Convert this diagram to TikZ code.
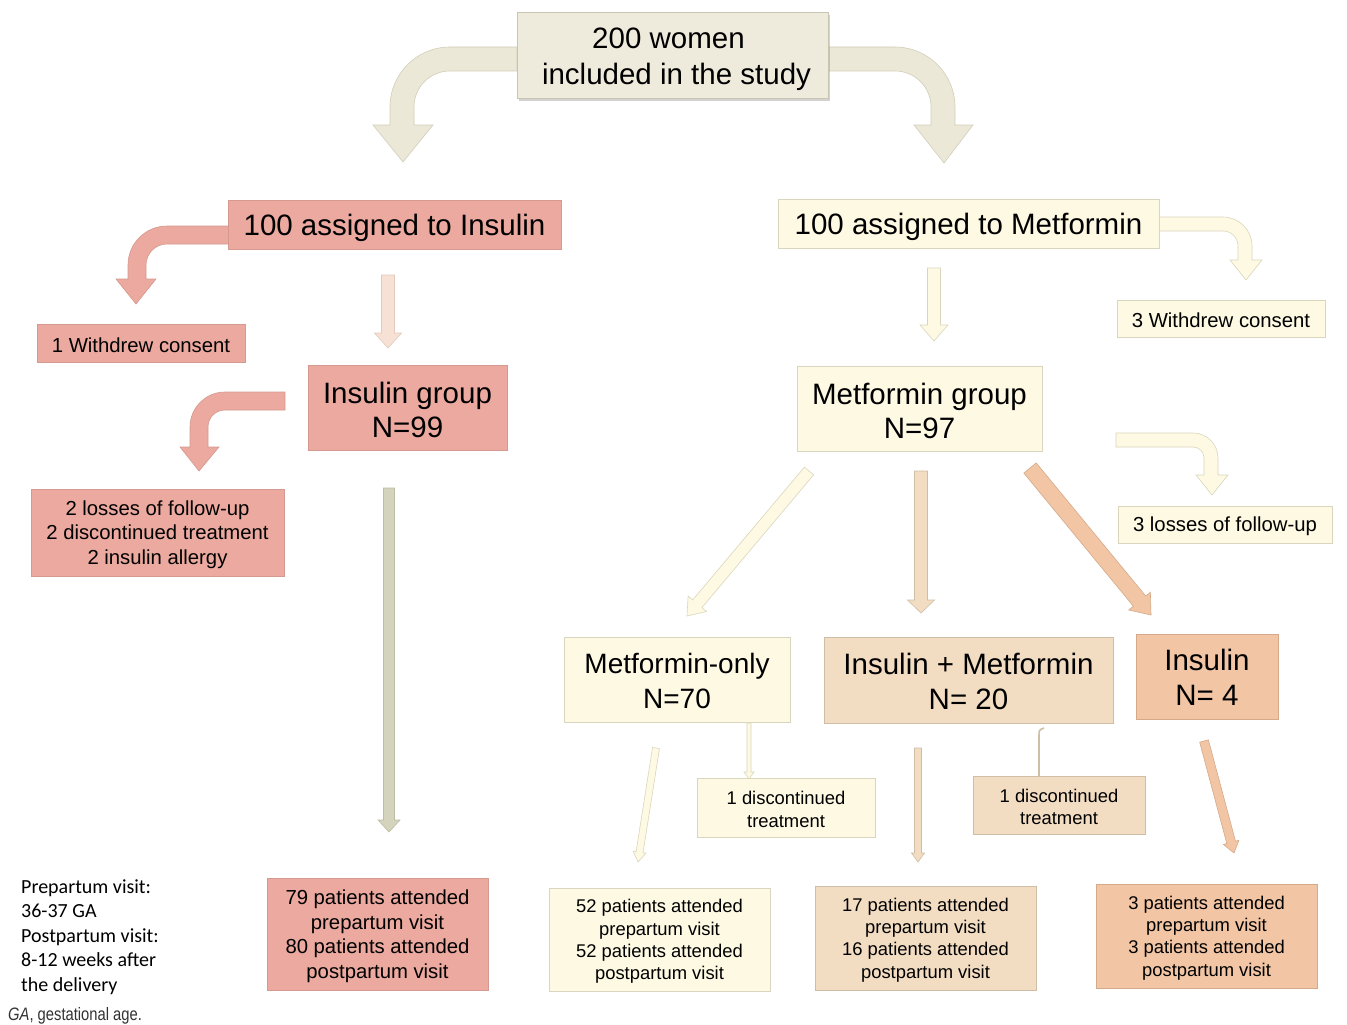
\documentclass[tikz,border=0pt]{standalone}
\usepackage{fontspec}
\setmainfont{Liberation Sans}
\newfontfamily\carl{Carlito}
\usetikzlibrary{calc,shadows,backgrounds}

\definecolor{pinkF}{HTML}{EBA99F}
\definecolor{pinkD}{HTML}{D49A90}
\definecolor{yelF}{HTML}{FDF9E3}
\definecolor{yelD}{HTML}{DAD6BD}
\definecolor{tanF}{HTML}{F2DDC3}
\definecolor{tanD}{HTML}{CFBDA5}
\definecolor{orF}{HTML}{F2C5A4}
\definecolor{orD}{HTML}{D4AA8A}
\definecolor{begF}{HTML}{EFEBDC}
\definecolor{begD}{HTML}{C9C5B2}
\definecolor{begA}{HTML}{EBE8D7}
\definecolor{begAD}{HTML}{D2CEBA}
\definecolor{lpinkF}{HTML}{F7E0D4}
\definecolor{lpinkD}{HTML}{E2CABD}
\definecolor{oliveF}{HTML}{D4D4BC}
\definecolor{oliveD}{HTML}{BDBDA5}
\definecolor{noteC}{HTML}{333333}

% straight block arrow: style, from, to, shaft width, head width, head length
\newcommand\blk[6]{%
  \filldraw[#1] let \p1=(#2), \p2=(#3), \n1={atan2(\y2-\y1,\x2-\x1)} in
   ($(\p1)+({\n1+90}:{#4/2*1pt})$) --
   ($(\p2)+({\n1+180}:{#6*1pt})+({\n1+90}:{#4/2*1pt})$) --
   ($(\p2)+({\n1+180}:{#6*1pt})+({\n1+90}:{#5/2*1pt})$) --
   (\p2) --
   ($(\p2)+({\n1+180}:{#6*1pt})+({\n1-90}:{#5/2*1pt})$) --
   ($(\p2)+({\n1+180}:{#6*1pt})+({\n1-90}:{#4/2*1pt})$) --
   ($(\p1)+({\n1-90}:{#4/2*1pt})$) -- cycle;}

% box with its text: box style, text style, name, centre, width, height, text
\newcommand\bx[7]{%
  \node[#1, minimum width=#5pt, minimum height=#6pt] (#3) at (#4) {};
  \node[#2, align=center, inner sep=0pt, text=black] (#3-t) at (#3.center) {#7};}

\tikzset{
  box/.style={draw, line width=0.8pt, inner sep=0pt},
  big/.style={font=\fontsize{29.5}{34}\selectfont, yshift=-3pt},
  mid/.style={font=\fontsize{20.3}{24.5}\selectfont, yshift=-2pt},
  sml/.style={font=\fontsize{18.4}{22.4}\selectfont, yshift=-2pt},
  pinkbox/.style={box, fill=pinkF, draw=pinkD},
  yelbox/.style={box, fill=yelF, draw=yelD},
  tanbox/.style={box, fill=tanF, draw=tanD},
  orbox/.style={box, fill=orF, draw=orD},
  topbox/.style={box, fill=begF, draw=begD,
      drop shadow={shadow xshift=2pt, shadow yshift=-3pt, opacity=0.35}},
  arr/.style={line width=0.6pt},
  pinkarr/.style={arr, fill=pinkF, draw=pinkD},
  yelarr/.style={arr, fill=yelF, draw=yelD},
  tanarr/.style={arr, fill=tanF, draw=tanD},
  orarr/.style={arr, fill=orF, draw=orD},
  begarr/.style={arr, fill=begA, draw=begAD},
  lpinkarr/.style={arr, fill=lpinkF, draw=lpinkD},
  olivearr/.style={arr, fill=oliveF, draw=oliveD},
}

\begin{document}
\begin{tikzpicture}[x=1pt,y=-1pt]
\useasboundingbox (0,0) rectangle (1347,1025);

% ---- nodes ----
\bx{topbox}{big, font=\fontsize{29.5}{36}\selectfont, yshift=-1pt}{top}{672.5,55}{311}{86}
   {\hspace*{-8pt}200 women\\\hspace*{8pt}included in the study}
\bx{pinkbox}{big}{ins100}{394.5,224.5}{333}{49}{100 assigned to Insulin}
\bx{yelbox}{big}{met100}{968.5,223.5}{381}{49}{100 assigned to Metformin}
\bx{pinkbox}{mid}{w1}{141,343}{208}{38}{1 Withdrew consent}
\bx{yelbox}{mid}{w3}{1221,318.5}{208}{37}{3 Withdrew consent}
\bx{pinkbox}{big, yshift=1pt}{insgrp}{407.5,407.5}{199}{85}{Insulin group\\N=99}
\bx{yelbox}{big, yshift=1pt}{metgrp}{919.5,408.5}{245}{85}{Metformin group\\N=97}
\bx{pinkbox}{mid}{lossL}{157.5,532.5}{253}{87}{2 losses of follow-up\\2 discontinued treatment\\2 insulin allergy}
\bx{yelbox}{mid}{loss3}{1225,524.5}{214}{37}{3 losses of follow-up}
\bx{yelbox}{big, font=\fontsize{28}{35}\selectfont, yshift=2pt}{metonly}{677,679.5}{226}{85}{Metformin-only\\N=70}
\bx{tanbox}{big, font=\fontsize{29.5}{35}\selectfont, yshift=2pt}{insmet}{968.5,680}{289}{86}{Insulin + Metformin\\N= 20}
\bx{orbox}{big, font=\fontsize{29.5}{35}\selectfont, yshift=2pt}{ins4}{1207,676.5}{142}{85}{Insulin\\N= 4}
\bx{yelbox}{sml}{disc1}{786,807.5}{178}{59}{1 discontinued\\treatment}
\bx{tanbox}{sml}{disc2}{1059,805}{172}{58}{1 discontinued\\treatment}
\bx{pinkbox}{mid}{b1}{377.5,934}{221}{112}{79 patients attended\\prepartum visit\\80 patients attended\\postpartum visit}
\bx{yelbox}{sml}{b2}{659.5,939.5}{221}{103}{52 patients attended\\prepartum visit\\52 patients attended\\postpartum visit}
\bx{tanbox}{sml}{b3}{925.5,938}{221}{104}{17 patients attended\\prepartum visit\\16 patients attended\\postpartum visit}
\bx{orbox}{sml}{b4}{1206.5,936}{221}{104}{3 patients attended\\prepartum visit\\3 patients attended\\postpartum visit}

\node[anchor=west, align=left, inner sep=0pt, font=\carl\fontsize{20}{24.5}\selectfont] (notes) at (21,937)
  {Prepartum visit:\\36-37 GA\\Postpartum visit:\\8-12 weeks after\\the delivery};
\node[anchor=west, inner sep=0pt, text=noteC, font=\fontsize{18}{20}\selectfont] (ganote) at (8,1016)
  {\scalebox{0.82}[1]{\textit{GA}, gestational age.}};

% ---- connector end points ----
\coordinate (a1s) at (388,275);  \coordinate (a1e) at (388,348);
\coordinate (a2s) at (934,268);  \coordinate (a2e) at (934,341);
\coordinate (a3s) at (389,488);  \coordinate (a3e) at (389,832);
\coordinate (a4s) at (809,471);  \coordinate (a4e) at (687,616);
\coordinate (a5s) at (921,471);  \coordinate (a5e) at (921,613);
\coordinate (a6s) at (1030,468); \coordinate (a6e) at (1151,615);
\coordinate (a7s) at (656,748);  \coordinate (a7e) at (638,862);
\coordinate (a8s) at (918,748);  \coordinate (a8e) at (918,862);
\coordinate (a9s) at (1204,741); \coordinate (a9e) at (1234,853);
\coordinate (a10s) at (749,723); \coordinate (a10e) at (749,779);
\coordinate (h1) at (1039,776);

\begin{scope}[on background layer]
\fill[white] (0,0) rectangle (1347,1025);
% curved arrows from the top box
\filldraw[begarr] (517,47) -- (450,47) .. controls (416.9,47) and (390,73.9) .. (390,107)
  -- (390,125) -- (373,125) -- (403,162) -- (433,125) -- (414,125) -- (414,107)
  .. controls (414,87.1) and (430.1,71) .. (450,71) -- (517,71) -- cycle;
\filldraw[begarr] (828,47) -- (895,47) .. controls (928.1,47) and (955,73.9) .. (955,107)
  -- (955,125) -- (973,125) -- (944,163) -- (914,125) -- (931,125) -- (931,107)
  .. controls (931,87.1) and (914.9,71) .. (895,71) -- (828,71) -- cycle;
% ins100 -> w1
\filldraw[pinkarr] (229,226) -- (167,226) .. controls (145.5,226) and (128,243.5) .. (128,265)
  -- (128,279) -- (116,279) -- (136,304) -- (156,279) -- (146,279) -- (146,265)
  .. controls (146,253.4) and (155.4,244) .. (167,244) -- (229,244) -- cycle;
% insgrp -> lossL
\filldraw[pinkarr] (285,392) -- (225,392) .. controls (205.7,392) and (190,407.7) .. (190,427)
  -- (190,447) -- (180,447) -- (199,471) -- (219,447) -- (208,447) -- (208,427)
  .. controls (208,417.6) and (215.6,410) .. (225,410) -- (285,410) -- cycle;
% met100 -> w3
\filldraw[yelarr] (1159,217) -- (1223,217) .. controls (1239,217) and (1252,230) .. (1252,246)
  -- (1252,260) -- (1262,260) -- (1246,280) -- (1230,260) -- (1238,260) -- (1238,246)
  .. controls (1238,237.7) and (1231.3,231) .. (1223,231) -- (1159,231) -- cycle;
% metgrp -> loss3
\filldraw[yelarr] (1116,433) -- (1193,433) .. controls (1206.8,433) and (1218,444.2) .. (1218,458)
  -- (1218,475) -- (1228,475) -- (1212,495) -- (1196,475) -- (1204,475) -- (1204,458)
  .. controls (1204,451.9) and (1199.1,447) .. (1193,447) -- (1116,447) -- cycle;
% straight arrows
\blk{lpinkarr}{a1s}{a1e}{13}{27}{15}
\blk{yelarr}{a2s}{a2e}{13}{28}{16}
\blk{olivearr}{a3s}{a3e}{11}{22}{12}
\blk{yelarr}{a4s}{a4e}{12}{24}{16}
\blk{tanarr}{a5s}{a5e}{13}{27}{13}
\blk{orarr}{a6s}{a6e}{16}{28}{18}
\blk{yelarr}{a7s}{a7e}{7}{13}{10}
\blk{tanarr}{a8s}{a8e}{7}{13}{9}
\blk{orarr}{a9s}{a9e}{9}{16}{11}
\blk{yelarr}{a10s}{a10e}{4}{10}{7}
% insmet -> disc2 hook line
\draw[tanD, line width=1.6pt] (h1) -- (1039,736) .. controls (1039,730) .. (1044,728);
\end{scope}
\end{tikzpicture}
\end{document}
